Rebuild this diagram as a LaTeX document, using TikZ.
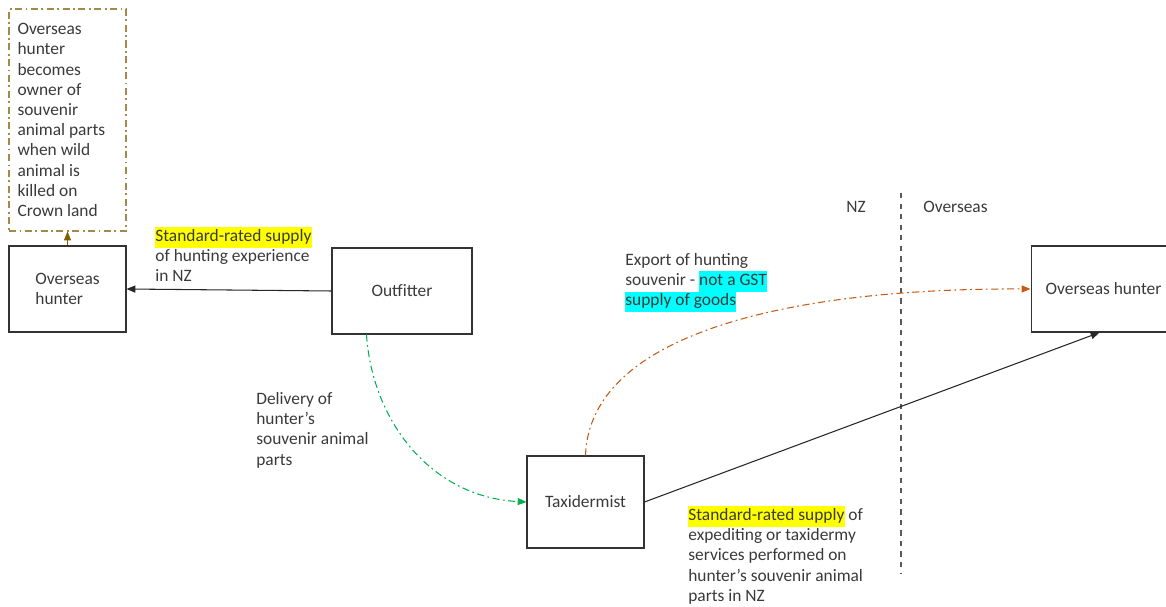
\documentclass[tikz,border=0pt]{standalone}
\usepackage{fontspec}
\setmainfont{Carlito}
\usepackage{tikz}
\usetikzlibrary{arrows.meta,positioning}
\usepackage{xcolor}
\definecolor{InkGray}{HTML}{3A3A3A}
\definecolor{LineGray}{HTML}{595959}
\definecolor{NoteBrown}{HTML}{A6884A}
\definecolor{TipBrown}{HTML}{7F6000}
\definecolor{DelGreen}{HTML}{00B050}
\definecolor{ExpOrange}{HTML}{C55A11}
\definecolor{HlYellow}{HTML}{FFFF00}
\definecolor{HlCyan}{HTML}{00FFFF}
\newcommand{\hilite}[2]{{\setlength{\fboxsep}{0pt}\colorbox{#1}{\strut #2}}}

\begin{document}
\begin{tikzpicture}[x=0.02cm,y=-0.02cm,
    font=\fontsize{9.9}{11.5}\selectfont,text=InkGray,
    party/.style={draw=black!80,semithick,minimum width=2.34cm,minimum height=1.72cm,align=left},
    lbl/.style={anchor=north west,inner sep=0pt,align=left},
    flow/.style={-{Triangle[length=5pt,width=4pt]},semithick},
    dashdot/.style={dash pattern=on 4pt off 2pt on 1pt off 2pt}]
    \useasboundingbox (0,0) rectangle (1166,607);
    \clip (0,0) rectangle (1166,607);

    % parties
    \node[party,draw=NoteBrown,dashdot,minimum height=4.44cm,text width=2.0cm,align=flush left] (note) at (67.5,120)
      {Overseas\\hunter\\becomes\\owner of\\souvenir\\animal parts\\when wild\\animal is\\killed on\\Crown land};
    \node[party] (hunterL) at (67.5,289) {Overseas\\hunter};
    \node[party,minimum width=2.8cm] (outfitter) at (402,291) {Outfitter};
    \node[party,minimum height=1.84cm] (taxi) at (585.5,502) {Taxidermist};
    \node[party,minimum width=2.9cm] (hunterR) at (1103.5,289) {Overseas hunter};

    % NZ / overseas border
    \coordinate (bordTop) at (901,193);
    \coordinate (bordBot) at (901,573);
    \draw[LineGray,dashed,thick] (bordTop) -- (bordBot);
    \node[anchor=base west,inner sep=0pt] (nzLbl) at (846,213) {NZ};
    \node[anchor=base west,inner sep=0pt] (osLbl) at (923,213) {Overseas};

    % ownership
    \draw[flow,TipBrown,thin] (hunterL.north) -- (note.south);

    % hunting experience
    \draw[flow,black!85] (outfitter.west) -- (hunterL.east);
    \node[lbl] (expLbl) at (155,227)
      {\hilite{HlYellow}{Standard-rated supply}\\of hunting experience\\in NZ};

    % delivery to taxidermist
    \draw[flow,DelGreen,dashdot] ([xshift=0.7cm]outfitter.south west)
      .. controls (372,420) and (430,497) .. (taxi.west);
    \node[lbl] (delLbl) at (256,392)
      {Delivery of\\hunter’s\\souvenir animal\\parts};

    % export
    \draw[flow,ExpOrange,dashdot] (taxi.north)
      .. controls (590,330) and (800,288) .. (hunterR.west);
    \node[lbl] (exportLbl) at (625,253)
      {Export of hunting\\souvenir - \hilite{HlCyan}{not a GST}\\\hilite{HlCyan}{supply of goods}};

    % taxidermy services
    \draw[flow,black!85] (taxi.east) -- ([xshift=1.38cm]hunterR.south west);
    \node[lbl] (taxLbl) at (688,506)
      {\hilite{HlYellow}{Standard-rated supply} of\\expediting or taxidermy\\services performed on\\hunter’s souvenir animal\\parts in NZ};
\end{tikzpicture}
\end{document}
